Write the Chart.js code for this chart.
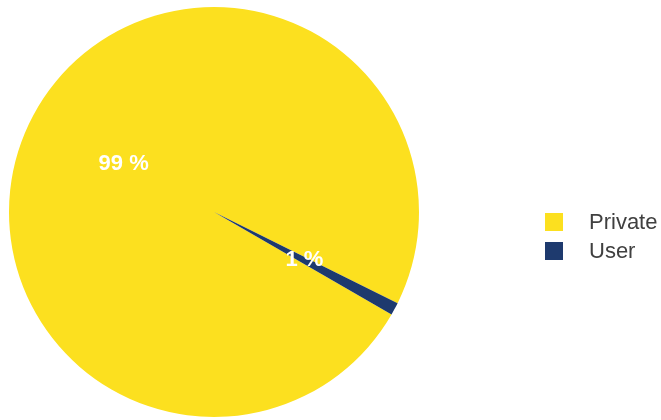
<!DOCTYPE html>
<html>
<head>
<meta charset="utf-8">
<script src="https://cdn.jsdelivr.net/npm/chart.js@4"></script>
<style>
  html, body { margin: 0; padding: 0; background: #fff; }
  #wrap { position: relative; width: 661px; height: 420px; }
  #legend {
    position: absolute; left: 545px; top: 211px;
    font-family: "Liberation Sans", Arial, sans-serif; font-size: 22px; color: #404040;
  }
  #legend .item { display: flex; align-items: center; height: 22px; margin-bottom: 7px; }
  #legend .box { width: 18px; height: 18px; margin-right: 26px; }
</style>
</head>
<body>
<div id="wrap">
  <canvas id="pieOwner" width="661" height="420"></canvas>
  <div id="legend"></div>
</div>
<script>
const labels = ['Private', 'User'];
const shares = [99, 1];
const sliceColors = ['#FCE01F', '#1E3A6E'];

// percentage text in the middle of each slice
const sliceLabels = {
    id: 'sliceLabels',
    afterDatasetsDraw(chart) {
        const ctx = chart.ctx;
        const meta = chart.getDatasetMeta(0);
        ctx.save();
        ctx.font = 'bold 22px "Liberation Sans", Arial, sans-serif';
        ctx.fillStyle = '#ffffff';
        ctx.textAlign = 'center';
        ctx.textBaseline = 'middle';
        meta.data.forEach(function (arc, i) {
            const p = arc.getCenterPoint();
            ctx.fillText(shares[i] + ' %', p.x, p.y);
        });
        ctx.restore();
    }
};

const chart = new Chart(document.getElementById('pieOwner').getContext('2d'), {
    type: 'pie',
    data: {
        labels: labels,
        datasets: [{
            data: shares,
            backgroundColor: sliceColors,
            borderWidth: 0
        }]
    },
    options: {
        responsive: false,
        animation: false,
        rotation: 120,
        layout: { padding: { left: 0, right: 233, top: 7, bottom: 3 } },
        plugins: {
            legend: { display: false },
            tooltip: { enabled: false }
        }
    },
    plugins: [sliceLabels]
});

// legend next to the pie
const legendEl = document.getElementById('legend');
labels.forEach(function (name, i) {
    const row = document.createElement('div');
    row.className = 'item';
    const box = document.createElement('span');
    box.className = 'box';
    box.style.background = sliceColors[i];
    const txt = document.createElement('span');
    txt.textContent = name;
    row.appendChild(box);
    row.appendChild(txt);
    legendEl.appendChild(row);
});
</script>
</body>
</html>
